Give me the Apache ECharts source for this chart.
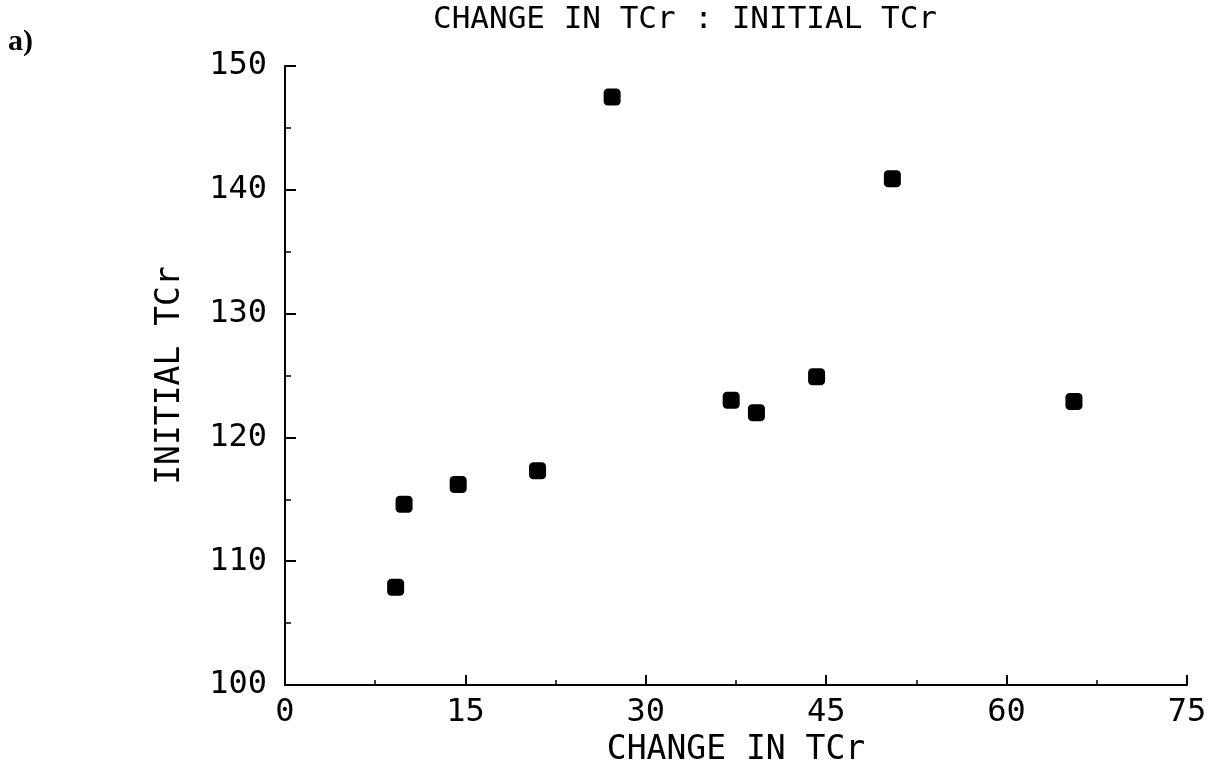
<!DOCTYPE html>
<html>
<head>
<meta charset="utf-8">
<script src="https://cdn.jsdelivr.net/npm/echarts@6/dist/echarts.min.js"></script>
<style>
  html, body { margin: 0; padding: 0; background: #fff; }
  #chart { width: 1215px; height: 769px; }
</style>
</head>
<body>
<div id="chart"></div>
<script>
// Change in TCr against initial TCr, one point per subject
const changeInTCr = [9.2, 9.9, 14.4, 21.0, 27.2, 37.1, 39.2, 44.2, 50.5, 65.6];
const initialTCr  = [107.9, 114.6, 116.2, 117.3, 147.5, 123.0, 122.0, 124.9, 140.9, 122.9];

const xTicks = { min: 0, max: 75, interval: 15 };
const yTicks = { min: 100, max: 150, interval: 10 };

const titleText = 'CHANGE IN TCr : INITIAL TCr';
const xName = 'CHANGE IN TCr';
const yName = 'INITIAL TCr';
const panelLabel = 'a)';

const points = changeInTCr.map((x, i) => [x, initialTCr[i]]);

const plotFont = 'DejaVu Sans Mono';
const ink = '#000';

const chart = echarts.init(document.getElementById('chart'), null, { renderer: 'canvas' });

chart.setOption({
  backgroundColor: '#fff',
  animation: false,
  grid: {
    left: 285, right: 28, top: 66, bottom: 84,
    containLabel: false,
    outerBoundsMode: 'none'
  },
  graphic: [
    {
      type: 'text',
      x: 685, y: 20,
      style: {
        text: titleText,
        font: '31px "' + plotFont + '"',
        fill: ink,
        align: 'center',
        verticalAlign: 'middle'
      }
    },
    {
      type: 'text',
      x: 8, y: 42,
      style: {
        text: panelLabel,
        font: 'bold 30px "Liberation Serif"',
        fill: ink,
        align: 'left',
        verticalAlign: 'middle'
      }
    }
  ],
  xAxis: {
    type: 'value',
    min: xTicks.min, max: xTicks.max, interval: xTicks.interval,
    name: xName,
    nameLocation: 'middle',
    nameGap: 48,
    nameTextStyle: { fontFamily: plotFont, fontSize: 33, color: ink },
    axisLine: { show: true, onZero: false, lineStyle: { color: ink, width: 2 } },
    axisTick: { show: true, inside: true, length: 10, lineStyle: { color: ink, width: 2 } },
    minorTick: { show: true, splitNumber: 2, length: 5, lineStyle: { color: ink, width: 1.5 } },
    axisLabel: { fontFamily: plotFont, fontSize: 32, color: ink, margin: 12 },
    splitLine: { show: false }
  },
  yAxis: {
    type: 'value',
    min: yTicks.min, max: yTicks.max, interval: yTicks.interval,
    name: yName,
    nameLocation: 'middle',
    nameGap: 98,
    nameRotate: 90,
    nameTextStyle: { fontFamily: plotFont, fontSize: 33, color: ink },
    axisLine: { show: true, onZero: false, lineStyle: { color: ink, width: 2 } },
    axisTick: { show: true, inside: true, length: 11, lineStyle: { color: ink, width: 2 } },
    minorTick: { show: true, splitNumber: 2, length: 6, lineStyle: { color: ink, width: 1.5 } },
    axisLabel: { fontFamily: plotFont, fontSize: 32, color: ink, margin: 18 },
    splitLine: { show: false }
  },
  series: [
    {
      type: 'scatter',
      data: points,
      symbol: 'roundRect',
      symbolSize: 17,
      itemStyle: { color: ink, opacity: 1 },
      clip: false
    }
  ]
});
</script>
</body>
</html>
